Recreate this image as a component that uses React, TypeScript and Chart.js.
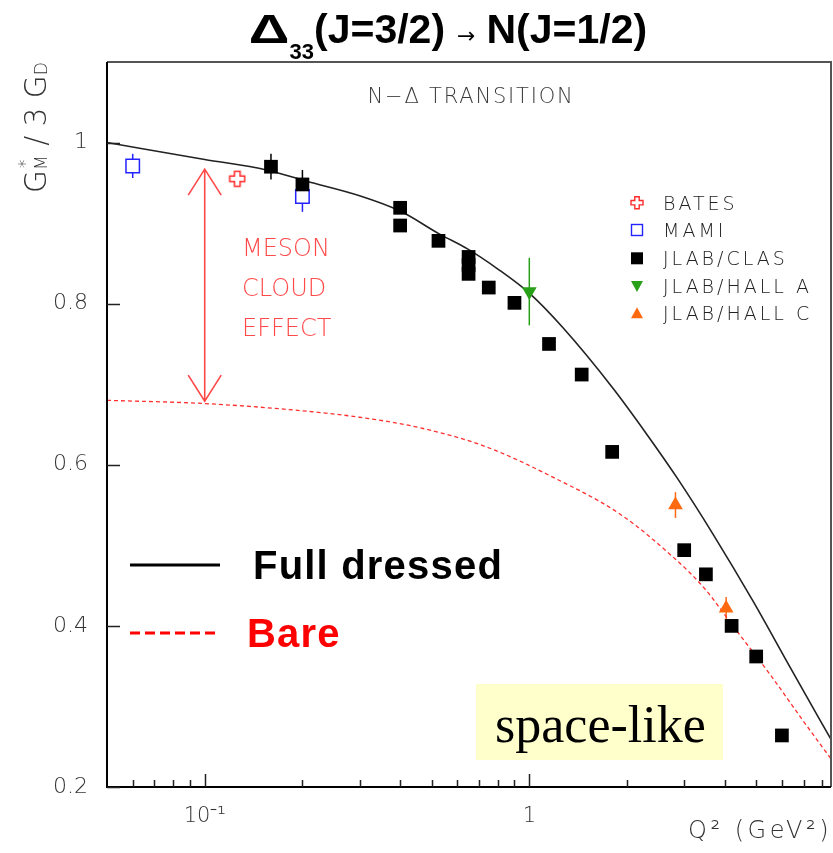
import React, { useEffect, useRef } from 'react';
import { Chart, registerables } from 'chart.js';

Chart.register(...registerables);

// ---------------- Data ----------------
const fullQ2 = [0.05, 0.1, 0.155, 0.206, 0.3, 0.4, 0.531, 0.645, 0.8, 1.0, 1.27, 1.81, 2.3, 2.85, 3.68, 4.9, 6.35, 8.5];
const fullGM = [1.0, 0.979, 0.966, 0.952, 0.934, 0.915, 0.886, 0.868, 0.843, 0.813, 0.77, 0.695, 0.638, 0.584, 0.514, 0.43, 0.349, 0.259];

const bareQ2 = [0.05, 0.1, 0.2, 0.3, 0.46, 0.74, 1.19, 1.9, 2.71, 3.44, 4.35, 5.51, 6.98, 8.5];
const bareGM = [0.68, 0.676, 0.667, 0.659, 0.646, 0.622, 0.584, 0.539, 0.489, 0.448, 0.394, 0.34, 0.282, 0.235];

const batesQ2 = [0.126];
const batesGM = [0.955];
const batesErr = [0.0];

const mamiQ2 = [0.06, 0.2];
const mamiGM = [0.971, 0.933];
const mamiErr = [0.015, 0.019];

const clasQ2 = [0.16, 0.2, 0.4, 0.4, 0.525, 0.65, 0.65, 0.65, 0.75, 0.9, 1.15, 1.45, 1.8, 3.0, 3.5, 4.2, 5.0, 6.0];
const clasGM = [0.97, 0.948, 0.919, 0.897, 0.878, 0.858, 0.848, 0.837, 0.82, 0.801, 0.75, 0.712, 0.616, 0.494, 0.464, 0.4, 0.362, 0.264];
const clasErr = [0.016, 0.018, 0, 0, 0, 0, 0, 0, 0, 0, 0, 0, 0, 0, 0, 0, 0, 0];

const hallAQ2 = [1.0];
const hallAGM = [0.815];
const hallAErr = [0.042];

const hallCQ2 = [2.82, 4.04];
const hallCGM = [0.55, 0.422];
const hallCErr = [0.016, 0.014];

// axis ticks
const xTickValues = [0.1, 1];
const xTickLabels = ['10\u207B\u00B9', '1'];
const xMinorTicks = [0.06, 0.07, 0.08, 0.09, 0.2, 0.3, 0.4, 0.5, 0.6, 0.7, 0.8, 0.9, 2, 3, 4, 5, 6, 7, 8];
const yTickValues = [0.2, 0.4, 0.6, 0.8, 1.0];
const yTickLabels = ['0.2', '0.4', '0.6', '0.8', '1'];

// meson cloud arrow (in data units)
const arrowQ2 = 0.1;
const arrowTop = 0.967;
const arrowBottom = 0.679;

const legendNames = ['BATES', 'MAMI', 'JLAB/CLAS', 'JLAB/HALL A', 'JLAB/HALL C'];

// colours
const RED = '#ff2a2a';
const BLUE = '#2323ff';
const GREEN = '#28a018';
const ORANGE = '#ff6a10';
const ANNOT_RED = '#ff4848';
const THIN = '200';
const SANS = '"DejaVu Sans"';

function pts(xs: number[], ys: number[]) {
  return xs.map((x, i) => ({ x, y: ys[i] }));
}

function openCrossPath(ctx: CanvasRenderingContext2D, cx: number, cy: number, a: number, w: number) {
  ctx.beginPath();
  ctx.moveTo(cx - w, cy - a);
  ctx.lineTo(cx + w, cy - a);
  ctx.lineTo(cx + w, cy - w);
  ctx.lineTo(cx + a, cy - w);
  ctx.lineTo(cx + a, cy + w);
  ctx.lineTo(cx + w, cy + w);
  ctx.lineTo(cx + w, cy + a);
  ctx.lineTo(cx - w, cy + a);
  ctx.lineTo(cx - w, cy + w);
  ctx.lineTo(cx - a, cy + w);
  ctx.lineTo(cx - a, cy - w);
  ctx.lineTo(cx - w, cy - w);
  ctx.closePath();
}

function makeCrossImage(size: number, a: number, w: number) {
  const c = document.createElement('canvas');
  c.width = size;
  c.height = size;
  const g = c.getContext('2d')!;
  g.fillStyle = '#ffffff';
  openCrossPath(g, size / 2, size / 2, a, w);
  g.fill();
  g.strokeStyle = RED;
  g.lineWidth = 1.5;
  g.stroke();
  return c;
}

function setSpacing(ctx: CanvasRenderingContext2D, px: number) {
  (ctx as any).letterSpacing = px + 'px';
}

const decorPlugin = {
  id: 'decor',
  beforeDatasetsDraw(chart: any) {
    const ctx: CanvasRenderingContext2D = chart.ctx;
    const xs = chart.scales.x;
    const ys = chart.scales.y;
    const groups: [number[], number[], number[], string][] = [
      [batesQ2, batesGM, batesErr, RED],
      [mamiQ2, mamiGM, mamiErr, BLUE],
      [clasQ2, clasGM, clasErr, '#000000'],
      [hallAQ2, hallAGM, hallAErr, GREEN],
      [hallCQ2, hallCGM, hallCErr, ORANGE],
    ];
    ctx.save();
    ctx.lineWidth = 1.5;
    for (const [qx, gy, er, col] of groups) {
      ctx.strokeStyle = col;
      qx.forEach((q, i) => {
        if (!er[i]) return;
        const px = xs.getPixelForValue(q);
        ctx.beginPath();
        ctx.moveTo(px, ys.getPixelForValue(gy[i] + er[i]));
        ctx.lineTo(px, ys.getPixelForValue(gy[i] - er[i]));
        ctx.stroke();
      });
    }
    ctx.restore();
  },
  afterDraw(chart: any) {
    const ctx: CanvasRenderingContext2D = chart.ctx;
    const xs = chart.scales.x;
    const ys = chart.scales.y;
    const { left, right, top, bottom } = chart.chartArea;
    ctx.save();

    // frame
    ctx.strokeStyle = '#555555';
    ctx.lineWidth = 2;
    ctx.beginPath();
    ctx.moveTo(left, top);
    ctx.lineTo(right, top);
    ctx.lineTo(right, bottom);
    ctx.stroke();
    ctx.strokeStyle = '#000000';
    ctx.beginPath();
    ctx.moveTo(left, top);
    ctx.lineTo(left, bottom);
    ctx.lineTo(right, bottom);
    ctx.stroke();

    // inward ticks
    ctx.lineWidth = 1.5;
    ctx.strokeStyle = '#222222';
    ctx.beginPath();
    for (const v of xTickValues) {
      const px = Math.round(xs.getPixelForValue(v)) + 0.5;
      ctx.moveTo(px, bottom);
      ctx.lineTo(px, bottom - 13);
    }
    for (const v of xMinorTicks) {
      const px = Math.round(xs.getPixelForValue(v)) + 0.5;
      ctx.moveTo(px, bottom);
      ctx.lineTo(px, bottom - 7);
    }
    for (const v of yTickValues) {
      const py = Math.round(ys.getPixelForValue(v)) + 0.5;
      ctx.moveTo(left, py);
      ctx.lineTo(left + 13, py);
    }
    ctx.stroke();

    // title
    {
      const big = 'bold 41px "Liberation Sans"';
      const sub = 'bold 22px "Liberation Sans"';
      const arr = '22px "DejaVu Sans"';
      const parts: [string, string, number, number, number, number][] = [
        ['\u0394', big, 0, 0, 0, 1.38],
        ['33', sub, 16, 0, 0, 1],
        ['(J=3/2)', big, 0, 0, 0, 1],
        ['\u2192', arr, 0, 12, 11, 1],
        ['N(J=1/2)', big, 0, 0, 0, 1],
      ];
      let total = 0;
      for (const [t, f, , pl, pr, sx] of parts) {
        ctx.font = f;
        total += pl + ctx.measureText(t).width * sx + pr;
      }
      let x = 448 - total / 2;
      ctx.fillStyle = '#000000';
      ctx.textAlign = 'left';
      ctx.textBaseline = 'alphabetic';
      for (const [t, f, dy, pl, pr, sx] of parts) {
        ctx.font = f;
        x += pl;
        ctx.save();
        ctx.translate(x, 43 + dy);
        ctx.scale(sx, 1);
        ctx.fillText(t, 0, 0);
        ctx.restore();
        x += ctx.measureText(t).width * sx + pr;
      }
    }

    // y axis title  G*_M / 3 G_D (rotated)
    {
      ctx.save();
      ctx.translate(46, 193);
      ctx.rotate(-Math.PI / 2);
      const bigF = `${THIN} 31px ${SANS}`;
      const smallF = `${THIN} 18px ${SANS}`;
      ctx.font = bigF;
      const wG = ctx.measureText('G').width;
      const wMid = ctx.measureText(' / 3 G').width;
      ctx.font = smallF;
      const wM = ctx.measureText('M').width;
      const wD = ctx.measureText('D').width;
      const tot = wG + wM + wMid + wD;
      ctx.scale(131 / tot, 1);
      ctx.fillStyle = '#333333';
      ctx.textAlign = 'left';
      ctx.textBaseline = 'alphabetic';
      let x = 0;
      ctx.font = bigF;
      ctx.fillText('G', x, 0);
      x += wG;
      ctx.font = smallF;
      ctx.fillText('*', x + 2, -15);
      ctx.fillText('M', x, 1);
      x += wM;
      ctx.font = bigF;
      ctx.fillText(' / 3 G', x, 0);
      x += wMid;
      ctx.font = smallF;
      ctx.fillText('D', x, 1);
      ctx.restore();
    }

    // x axis title
    ctx.fillStyle = '#333333';
    ctx.font = `${THIN} 24px ${SANS}`;
    ctx.textAlign = 'right';
    ctx.textBaseline = 'alphabetic';
    setSpacing(ctx, 3.5);
    ctx.fillText('Q\u00B2 (GeV\u00B2)', 832, 838);
    setSpacing(ctx, 0);

    // N-Delta transition
    ctx.fillStyle = '#3a3a3a';
    ctx.font = `${THIN} 21px ${SANS}`;
    ctx.textAlign = 'center';
    setSpacing(ctx, 1.8);
    ctx.fillText('N\u2212\u0394 TRANSITION', 471, 103);
    setSpacing(ctx, 0);

    // data legend (upper right)
    const rowsY = [202.7, 230, 258.3, 286, 313.3];
    const mx = 637;
    ctx.fillStyle = '#ffffff';
    openCrossPath(ctx, mx, rowsY[0], 6, 2.2);
    ctx.fill();
    ctx.strokeStyle = RED;
    ctx.lineWidth = 1.4;
    ctx.stroke();
    ctx.strokeStyle = BLUE;
    ctx.strokeRect(mx - 5.5, rowsY[1] - 5.5, 11, 11);
    ctx.fillStyle = '#000000';
    ctx.fillRect(mx - 6, rowsY[2] - 6, 12, 12);
    ctx.fillStyle = GREEN;
    ctx.beginPath();
    ctx.moveTo(mx - 6, rowsY[3] - 5);
    ctx.lineTo(mx + 6, rowsY[3] - 5);
    ctx.lineTo(mx, rowsY[3] + 6);
    ctx.closePath();
    ctx.fill();
    ctx.fillStyle = ORANGE;
    ctx.beginPath();
    ctx.moveTo(mx - 6, rowsY[4] + 5);
    ctx.lineTo(mx + 6, rowsY[4] + 5);
    ctx.lineTo(mx, rowsY[4] - 6);
    ctx.closePath();
    ctx.fill();
    ctx.fillStyle = '#222222';
    ctx.font = `${THIN} 19px ${SANS}`;
    ctx.textAlign = 'left';
    setSpacing(ctx, 3);
    legendNames.forEach((n, i) => ctx.fillText(n, 663, rowsY[i] + 6.8));
    setSpacing(ctx, 0);

    // meson cloud arrow
    const ax = xs.getPixelForValue(arrowQ2);
    const at = ys.getPixelForValue(arrowTop);
    const ab = ys.getPixelForValue(arrowBottom);
    ctx.strokeStyle = ANNOT_RED;
    ctx.lineWidth = 1.6;
    ctx.beginPath();
    ctx.moveTo(ax, at);
    ctx.lineTo(ax, ab);
    ctx.moveTo(ax - 16.5, at + 26);
    ctx.lineTo(ax, at);
    ctx.lineTo(ax + 16.5, at + 26);
    ctx.moveTo(ax - 16.5, ab - 26);
    ctx.lineTo(ax, ab);
    ctx.lineTo(ax + 16.5, ab - 26);
    ctx.stroke();
    ctx.fillStyle = ANNOT_RED;
    ctx.font = `${THIN} 24px ${SANS}`;
    ctx.textAlign = 'left';
    ctx.fillText('MESON', 242, 256);
    ctx.fillText('CLOUD', 242, 296);
    ctx.fillText('EFFECT', 242, 336);

    // curve legend (lower left)
    ctx.strokeStyle = '#000000';
    ctx.lineWidth = 3;
    ctx.beginPath();
    ctx.moveTo(130, 565);
    ctx.lineTo(220, 565);
    ctx.stroke();
    ctx.strokeStyle = '#ff0000';
    ctx.setLineDash([10, 5]);
    ctx.beginPath();
    ctx.moveTo(130, 633);
    ctx.lineTo(218, 633);
    ctx.stroke();
    ctx.setLineDash([]);
    ctx.font = 'bold 40px "Liberation Sans"';
    setSpacing(ctx, 1.2);
    ctx.fillStyle = '#000000';
    ctx.fillText('Full dressed', 253, 579);
    ctx.fillStyle = '#ff0000';
    ctx.fillText('Bare', 247, 647);
    setSpacing(ctx, 0);

    // space-like box
    ctx.fillStyle = '#ffffcc';
    ctx.fillRect(476, 684, 247, 76);
    ctx.fillStyle = '#000000';
    ctx.font = '52px "Liberation Serif"';
    ctx.fillText('space-like', 495, 742);

    ctx.restore();
  },
};

export default function App() {
  const ref = useRef<HTMLCanvasElement | null>(null);
  useEffect(() => {
    const canvas = ref.current;
    if (!canvas) return;
    const cross = makeCrossImage(18, 7.5, 2.8);
    const tickFont = { family: 'DejaVu Sans', size: 21, weight: 200 as any };
    const chart = new Chart(canvas, {
      type: 'scatter',
      data: {
        datasets: [
          {
            label: 'Bare',
            data: pts(bareQ2, bareGM),
            showLine: true,
            borderColor: '#ff3030',
            borderWidth: 1.3,
            borderDash: [4, 3],
            pointRadius: 0,
            cubicInterpolationMode: 'monotone',
            order: 10,
          } as any,
          {
            label: 'Full dressed',
            data: pts(fullQ2, fullGM),
            showLine: true,
            borderColor: '#222222',
            borderWidth: 1.6,
            pointRadius: 0,
            cubicInterpolationMode: 'monotone',
            order: 9,
          } as any,
          {
            label: 'MAMI',
            data: pts(mamiQ2, mamiGM),
            pointStyle: 'rect',
            pointRadius: 9.5,
            borderColor: BLUE,
            borderWidth: 1.5,
            backgroundColor: '#ffffff',
            order: 5,
          } as any,
          {
            label: 'BATES',
            data: pts(batesQ2, batesGM),
            pointStyle: cross,
            pointRadius: 9,
            order: 4,
          } as any,
          {
            label: 'JLAB/CLAS',
            data: pts(clasQ2, clasGM),
            pointStyle: 'rect',
            pointRadius: 9.7,
            borderWidth: 0,
            backgroundColor: '#000000',
            borderColor: '#000000',
            order: 3,
          } as any,
          {
            label: 'JLAB/HALL A',
            data: pts(hallAQ2, hallAGM),
            pointStyle: 'triangle',
            rotation: 180,
            pointRadius: 8.5,
            borderWidth: 0,
            backgroundColor: GREEN,
            borderColor: GREEN,
            order: 2,
          } as any,
          {
            label: 'JLAB/HALL C',
            data: pts(hallCQ2, hallCGM),
            pointStyle: 'triangle',
            pointRadius: 8.5,
            borderWidth: 0,
            backgroundColor: ORANGE,
            borderColor: ORANGE,
            order: 1,
          } as any,
        ],
      },
      options: {
        animation: false,
        responsive: false,
        devicePixelRatio: 1,
        events: [],
        layout: { autoPadding: false, padding: { top: 62, right: 2, left: 0, bottom: 0 } },
        plugins: {
          legend: { display: false },
          tooltip: { enabled: false },
          title: { display: false },
        },
        scales: {
          x: {
            type: 'logarithmic',
            min: 0.05,
            max: 8.5,
            border: { display: false },
            grid: { display: false, drawTicks: false },
            ticks: {
              autoSkip: false,
              maxRotation: 0,
              minRotation: 0,
              padding: 17,
              color: '#333333',
              font: tickFont,
              callback: (_v: any, i: number) => xTickLabels[i] ?? '',
            },
            afterBuildTicks: (s: any) => {
              s.ticks = xTickValues.map((v) => ({ value: v }));
            },
            afterFit: (s: any) => {
              s.height = 66;
              s.paddingLeft = 0;
              s.paddingRight = 0;
            },
          } as any,
          y: {
            type: 'linear',
            min: 0.2,
            max: 1.1,
            border: { display: false },
            grid: { display: false, drawTicks: false },
            ticks: {
              padding: 19,
              color: '#333333',
              font: { family: 'DejaVu Sans', size: 22, weight: 200 as any },
              callback: (_v: any, i: number) => yTickLabels[i] ?? '',
            },
            afterBuildTicks: (s: any) => {
              s.ticks = yTickValues.map((v) => ({ value: v }));
            },
            afterFit: (s: any) => {
              s.width = 107;
              s.paddingTop = 0;
              s.paddingBottom = 0;
            },
          } as any,
        },
      },
      plugins: [decorPlugin],
    });
    return () => chart.destroy();
  }, []);

  return (
    <div style={{ position: 'absolute', left: 0, top: 0, width: 833, height: 853, background: '#ffffff' }}>
      <canvas ref={ref} width={833} height={853} style={{ width: 833, height: 853, display: 'block' }} />
    </div>
  );
}
